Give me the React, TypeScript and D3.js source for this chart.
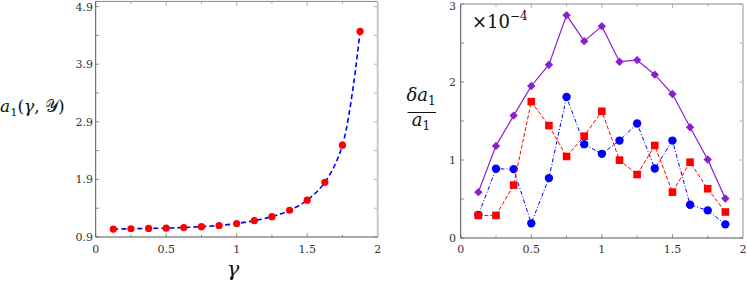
import React from "react";
import * as d3 from "d3";

const gammaL = [0.125, 0.25, 0.375, 0.5, 0.625, 0.75, 0.875, 1.0, 1.125, 1.25, 1.375, 1.5, 1.625, 1.75, 1.875];
const a1Values = [1.037, 1.043, 1.049, 1.054, 1.064, 1.08, 1.1, 1.134, 1.184, 1.252, 1.364, 1.54, 1.85, 2.494, 4.471];

const gammaR = [0.125, 0.25, 0.375, 0.5, 0.625, 0.75, 0.875, 1.0, 1.125, 1.25, 1.375, 1.5, 1.625, 1.75, 1.875];
const purpleVals = [0.588, 1.181, 1.569, 1.949, 2.222, 2.857, 2.524, 2.716, 2.26, 2.281, 2.094, 1.846, 1.42, 1.006, 0.507];
const blueVals = [0.294, 0.887, 0.883, 0.188, 0.768, 1.808, 1.203, 1.079, 1.249, 1.467, 0.891, 1.249, 0.426, 0.354, 0.175];
const redVals = [0.29, 0.29, 0.678, 1.748, 1.441, 1.045, 1.305, 1.625, 0.998, 0.814, 1.186, 0.588, 0.972, 0.631, 0.333];

const xTickLabels = ["0", "0.5", "1", "1.5", "2"];
const xTickValues = [0, 0.5, 1, 1.5, 2];
const yTickLabelsL = ["0.9", "1.9", "2.9", "3.9", "4.9"];
const yTickValuesL = [0.9, 1.9, 2.9, 3.9, 4.9];
const yTickLabelsR = ["0", "1", "2", "3"];
const yTickValuesR = [0, 1, 2, 3];

const serif = "'DejaVu Serif', 'Liberation Serif', 'Times New Roman', serif";

function Frame({ x, y, y0, y1, xMinor, yMinor }: any) {
  const [xa, xb] = x.range();
  const ya = y(y0);
  const yb = y(y1);
  return (
    <g>
      {xMinor.map((v: number, i: number) => {
        const major = Math.abs(v * 2 - Math.round(v * 2)) < 1e-6;
        const len = major ? 4 : 2.5;
        return (
          <g key={"xt" + i}>
            <line x1={x(v)} x2={x(v)} y1={ya} y2={ya - len} stroke="#777" strokeWidth={0.8} />
            <line x1={x(v)} x2={x(v)} y1={yb} y2={yb + len} stroke="#999" strokeWidth={0.8} />
          </g>
        );
      })}
      {yMinor.map((v: number, i: number) => (
        <g key={"yt" + i}>
          <line x1={xa} x2={xa + 3.5} y1={y(v)} y2={y(v)} stroke="#777" strokeWidth={0.8} />
          <line x1={xb} x2={xb - 3.5} y1={y(v)} y2={y(v)} stroke="#999" strokeWidth={0.8} />
        </g>
      ))}
      <line x1={xa} x2={xb} y1={yb} y2={yb} stroke="#888" strokeWidth={1} />
      <line x1={xb} x2={xb} y1={yb} y2={ya} stroke="#c8c8c8" strokeWidth={2} />
      <line x1={xa} x2={xb} y1={ya} y2={ya} stroke="#555" strokeWidth={1} />
      <line x1={xa} x2={xa} y1={yb} y2={ya} stroke="#555" strokeWidth={1} />
    </g>
  );
}

export default function App() {
  const xL = d3.scaleLinear().domain([0, 2]).range([95.7, 377.7]);
  const yL = d3.scaleLinear().domain([0.9, 4.9]).range([237, 6.6]);
  const xR = d3.scaleLinear().domain([0, 2]).range([460.7, 743]);
  const yR = d3.scaleLinear().domain([0, 3]).range([238, 4]);

  const xMinor = d3.range(0, 2.0001, 0.25);
  const yMinorL = d3.range(0.9, 4.95, 0.5);
  const yMinorR = d3.range(0, 3.0001, 0.5);

  const curveL = d3
    .line<number>()
    .x((_, i) => xL(gammaL[i]))
    .y((d) => yL(d))
    .curve(d3.curveCatmullRom.alpha(0.5))(a1Values);

  const lineR = (vals: number[]) =>
    d3
      .line<number>()
      .x((_, i) => xR(gammaR[i]))
      .y((d) => yR(d))(vals) as string;

  const purple = "#8c1ed2";
  const blue = "#0000ff";
  const red = "#ff0000";

  return (
    <svg width={747} height={282} style={{ position: "absolute", left: 0, top: 0, background: "#fff" }}>
      {/* Left panel */}
      <Frame x={xL} y={yL} y0={0.9} y1={4.99} xMinor={xMinor} yMinor={yMinorL} />
      {xTickValues.map((v, i) => (
        <text key={"lx" + i} x={xL(v)} y={253} textAnchor="middle" style={{ fontFamily: serif }} fontSize={11} fill="#333">
          {xTickLabels[i]}
        </text>
      ))}
      {yTickValuesL.map((v, i) => (
        <text key={"ly" + i} x={93} y={yL(v) + 4} textAnchor="end" style={{ fontFamily: serif }} fontSize={11} fill="#333">
          {yTickLabelsL[i]}
        </text>
      ))}
      <path d={curveL as string} fill="none" stroke={blue} strokeWidth={1.6} strokeDasharray="5,3" />
      {a1Values.map((v, i) => (
        <circle key={"ld" + i} cx={xL(gammaL[i])} cy={yL(v)} r={3.6} fill={red} />
      ))}
      <text x={0} y={112} style={{ fontFamily: serif }} fontSize={17} fill="#111">
        <tspan fontStyle="italic">a</tspan>
        <tspan fontSize={11.5} dy={4}>1</tspan>
        <tspan dy={-4}>(</tspan>
        <tspan fontStyle="italic">γ</tspan>
        <tspan>, </tspan>
        <tspan>𝒴</tspan>
        <tspan>)</tspan>
      </text>
      <text x={233} y={276} textAnchor="middle" style={{ fontFamily: serif }} fontStyle="italic" fontSize={21} fill="#111">
        γ
      </text>

      {/* Right panel */}
      <Frame x={xR} y={yR} y0={0} y1={3} xMinor={xMinor} yMinor={yMinorR} />
      {xTickValues.map((v, i) => (
        <text key={"rx" + i} x={xR(v)} y={253} textAnchor="middle" style={{ fontFamily: serif }} fontSize={11} fill="#333">
          {xTickLabels[i]}
        </text>
      ))}
      {yTickValuesR.map((v, i) => (
        <text key={"ry" + i} x={456} y={Math.max(yR(v) + 4, 10)} textAnchor="end" style={{ fontFamily: serif }} fontSize={11} fill="#333">
          {yTickLabelsR[i]}
        </text>
      ))}
      <text x={472} y={28} style={{ fontFamily: serif }} fontSize={18} fill="#111">
        ×10
        <tspan fontSize={12} dy={-8}>−4</tspan>
      </text>

      <path d={lineR(blueVals)} fill="none" stroke={blue} strokeWidth={1} strokeDasharray="4,2,1,2" />
      {blueVals.map((v, i) => (
        <circle key={"bc" + i} cx={xR(gammaR[i])} cy={yR(v)} r={4.2} fill={blue} />
      ))}
      <path d={lineR(redVals)} fill="none" stroke={red} strokeWidth={1} strokeDasharray="4,2" />
      {redVals.map((v, i) => (
        <rect key={"rs" + i} x={xR(gammaR[i]) - 3.8} y={yR(v) - 3.8} width={7.6} height={7.6} fill={red} />
      ))}
      <path d={lineR(purpleVals)} fill="none" stroke={purple} strokeWidth={1.2} />
      {purpleVals.map((v, i) => {
        const cx = xR(gammaR[i]);
        const cy = yR(v);
        const s = 4.2;
        return (
          <path key={"pd" + i} d={`M${cx},${cy - s}L${cx + s},${cy}L${cx},${cy + s}L${cx - s},${cy}Z`} fill={purple} />
        );
      })}

      <text x={421} y={101} textAnchor="middle" style={{ fontFamily: serif }} fontSize={18} fill="#111">
        <tspan fontStyle="italic">δa</tspan>
        <tspan fontSize={12} dy={4}>1</tspan>
      </text>
      <line x1={407.5} x2={436} y1={112.5} y2={112.5} stroke="#111" strokeWidth={1} />
      <text x={421} y={126} textAnchor="middle" style={{ fontFamily: serif }} fontSize={18} fill="#111">
        <tspan fontStyle="italic">a</tspan>
        <tspan fontSize={12} dy={4}>1</tspan>
      </text>
    </svg>
  );
}
